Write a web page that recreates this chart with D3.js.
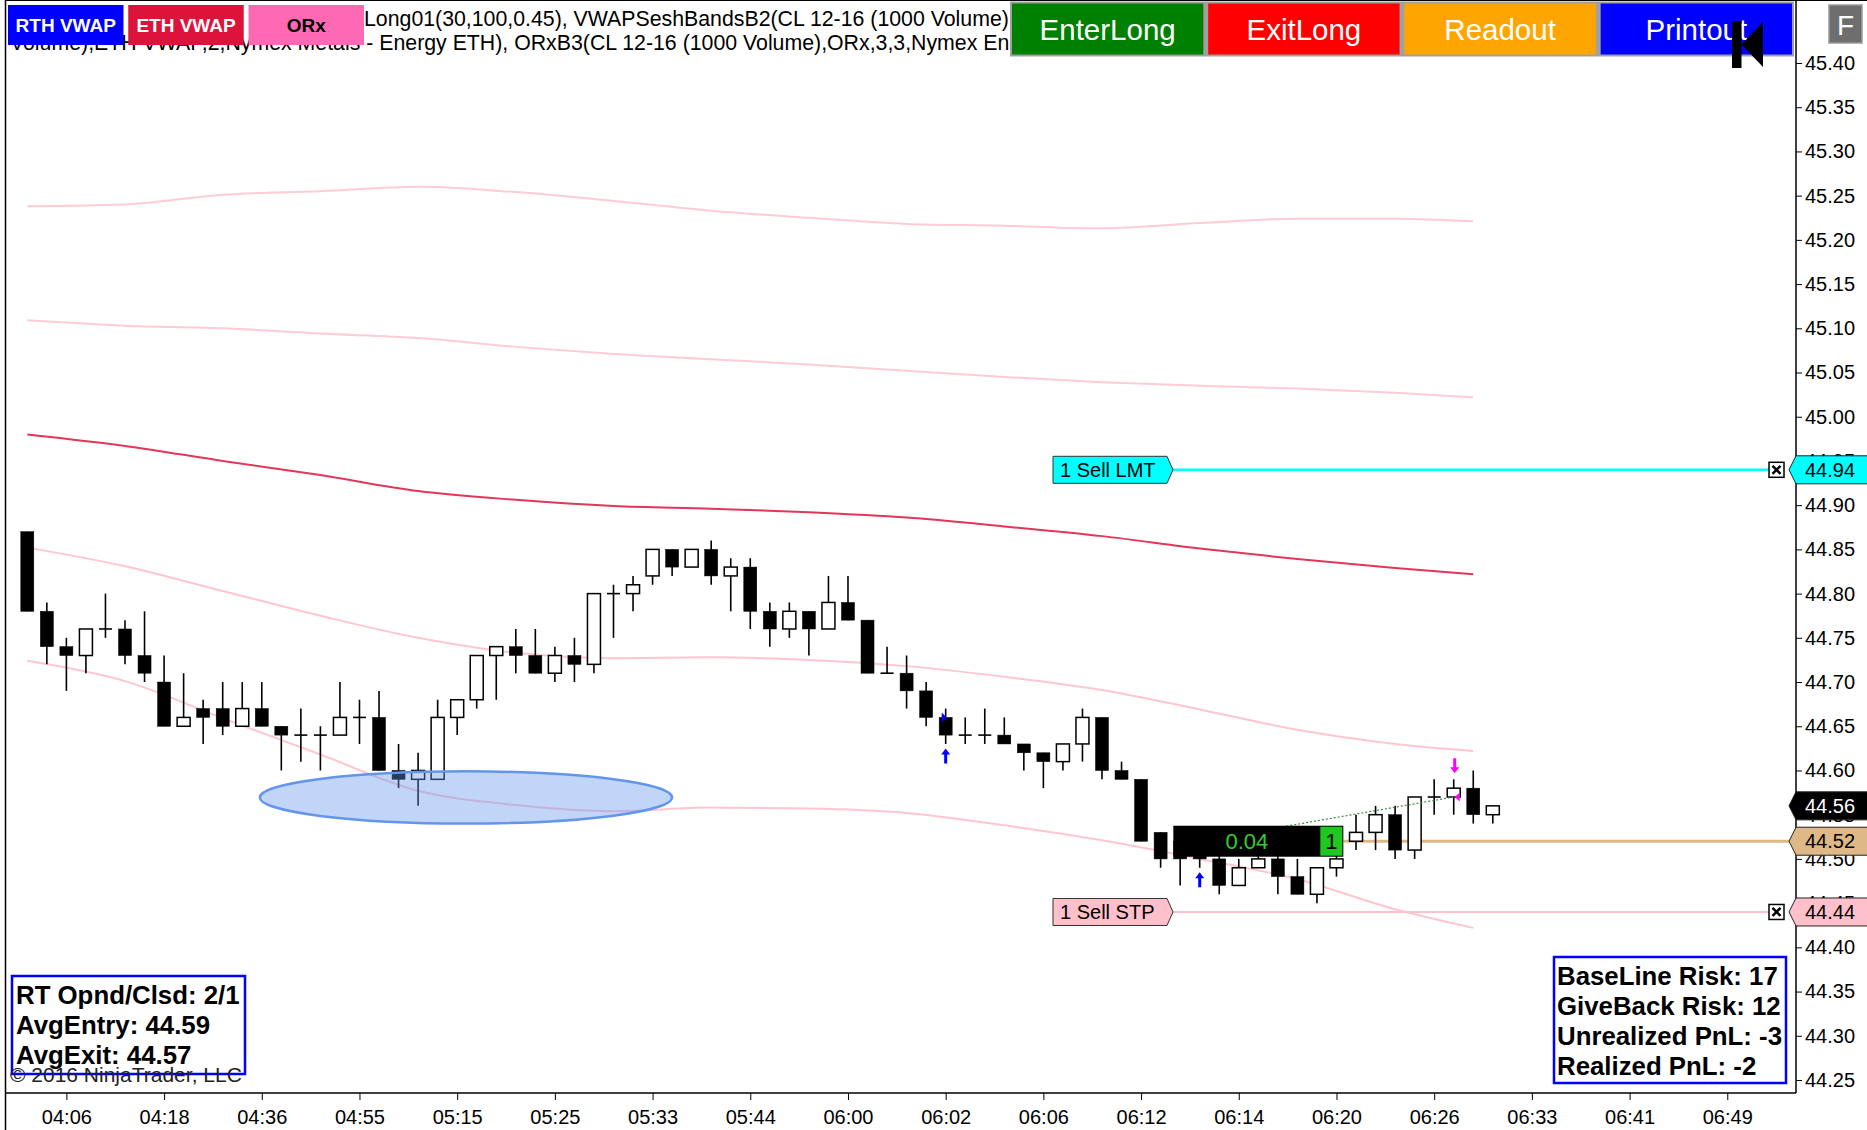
<!DOCTYPE html>
<html>
<head>
<meta charset='UTF-8'>
<title>CL 12-16 (1000 Volume)</title>
<script src='https://cdnjs.cloudflare.com/ajax/libs/d3/7.8.5/d3.min.js'></script>
<style>
body { margin: 0; background: #fff; overflow: hidden; }
svg text { font-family: 'Liberation Sans', Arial, sans-serif; }
</style>
</head>
<body>
<div id='chart'></div>
<script>
// candles, one value per bar
var opens  = [44.87,44.78,44.74,44.73,44.76,44.76,44.73,44.70,44.65,44.67,44.67,44.65,44.67,44.65,44.64,44.64,44.64,44.66,44.66,44.60,
              44.59,44.59,44.66,44.68,44.73,44.74,44.73,44.71,44.73,44.72,44.80,44.80,44.82,44.85,44.83,44.85,44.82,44.83,44.78,44.76,
              44.78,44.76,44.79,44.77,44.71,44.71,44.69,44.66,44.64,44.64,44.64,44.63,44.62,44.61,44.63,44.66,44.60,44.59,44.53,44.52,
              44.51,44.50,44.47,44.49,44.50,44.48,44.46,44.49,44.52,44.53,44.55,44.51,44.57,44.57,44.58,44.55];
var highs  = [44.87,44.79,44.75,44.76,44.80,44.77,44.78,44.73,44.71,44.68,44.70,44.70,44.70,44.65,44.67,44.65,44.70,44.68,44.69,44.63,
              44.62,44.68,44.68,44.73,44.74,44.76,44.76,44.74,44.75,44.80,44.81,44.82,44.85,44.85,44.85,44.86,44.84,44.84,44.79,44.79,
              44.78,44.82,44.82,44.77,44.74,44.73,44.70,44.67,44.66,44.67,44.66,44.63,44.62,44.63,44.67,44.66,44.61,44.59,44.53,44.52,
              44.52,44.51,44.50,44.51,44.51,44.50,44.49,44.51,44.55,44.56,44.56,44.57,44.59,44.59,44.60,44.56];
var lows   = [44.78,44.72,44.69,44.71,44.75,44.72,44.70,44.65,44.65,44.63,44.64,44.65,44.65,44.60,44.61,44.60,44.64,44.63,44.60,44.58,
              44.56,44.59,44.64,44.67,44.68,44.71,44.71,44.70,44.70,44.71,44.75,44.78,44.81,44.82,44.83,44.81,44.78,44.76,44.74,44.75,
              44.73,44.76,44.77,44.71,44.71,44.67,44.65,44.63,44.63,44.63,44.63,44.60,44.58,44.60,44.61,44.59,44.59,44.52,44.49,44.47,
              44.49,44.46,44.47,44.49,44.46,44.46,44.45,44.48,44.51,44.51,44.50,44.50,44.55,44.55,44.54,44.54];
var closes = [44.78,44.74,44.73,44.76,44.76,44.73,44.71,44.65,44.66,44.66,44.65,44.67,44.65,44.64,44.64,44.64,44.66,44.66,44.60,44.59,
              44.60,44.66,44.68,44.73,44.74,44.73,44.71,44.73,44.72,44.80,44.80,44.81,44.85,44.83,44.85,44.82,44.83,44.78,44.76,44.78,
              44.76,44.79,44.77,44.71,44.71,44.69,44.66,44.64,44.64,44.64,44.63,44.62,44.61,44.63,44.66,44.60,44.59,44.52,44.50,44.50,
              44.50,44.47,44.49,44.50,44.48,44.46,44.49,44.50,44.53,44.55,44.51,44.57,44.57,44.58,44.55,44.56];

// VWAP session bands, read every 5 bars
var bandBars  = [0, 5, 10, 15, 20, 25, 30, 35, 40, 45, 50, 55, 60, 65, 70, 74];
var bandUpper3 = [45.238,45.240,45.251,45.255,45.260,45.254,45.244,45.233,45.225,45.218,45.216,45.213,45.219,45.224,45.224,45.221];
var bandUpper2 = [45.109,45.103,45.100,45.094,45.089,45.079,45.071,45.065,45.059,45.052,45.045,45.039,45.035,45.032,45.027,45.022];
var vwapLine   = [44.980,44.967,44.950,44.934,44.916,44.906,44.899,44.896,44.892,44.886,44.876,44.865,44.851,44.839,44.829,44.822];
var bandLower1 = [44.852,44.831,44.803,44.775,44.750,44.733,44.727,44.728,44.725,44.718,44.706,44.691,44.669,44.646,44.630,44.622];
var bandLower2 = [44.724,44.701,44.659,44.618,44.577,44.561,44.554,44.558,44.557,44.552,44.538,44.521,44.500,44.477,44.443,44.422];

var xTickBars   = [2, 7, 12, 17, 22, 27, 32, 37, 42, 47, 52, 57, 62, 67, 72, 77, 82, 87];
var xTickLabels = ['04:06','04:18','04:36','04:55','05:15','05:25','05:33','05:44','06:00',
                   '06:02','06:06','06:12','06:14','06:20','06:26','06:33','06:41','06:49'];
var yTicks = [45.40,45.35,45.30,45.25,45.20,45.15,45.10,45.05,45.00,44.95,44.90,44.85,
              44.80,44.75,44.70,44.65,44.60,44.55,44.50,44.45,44.40,44.35,44.30,44.25];

// executions and orders
var entryBars = [47, 60], entryPrices = [44.66, 44.52];
var exitBars = [73], exitPrices = [44.57];
var orderPrices = [44.94, 44.44];
var orderLabels = ['1 Sell LMT', '1 Sell STP'];
var orderColors = ['#00ffff', '#ffc0cb'];
var avgPrice = 44.52, lastPrice = 44.56;
var positionBars = [58.65, 67.35], positionPnl = '0.04', positionQty = '1';
var ellipseBars = [11.9, 33.0], ellipsePrices = [44.599, 44.540];

var leftInfo  = ['RT Opnd/Clsd: 2/1', 'AvgEntry: 44.59', 'AvgExit: 44.57'];
var rightInfo = ['BaseLine Risk: 17', 'GiveBack Risk: 12', 'Unrealized PnL: -3', 'Realized PnL: -2'];
var indButtons = ['RTH VWAP', 'ETH VWAP', 'ORx'];
var tradeButtons = ['EnterLong', 'ExitLong', 'Readout', 'Printout'];

var W = 1867, H = 1130;
var axisX = 1796, axisY = 1093;

var svg = d3.select('#chart').append('svg')
    .attr('width', W).attr('height', H);

var x = d3.scaleLinear().domain([0, 75]).range([27.3, 1492.8]);
var y = d3.scaleLinear().domain([44.25, 45.40]).range([1080, 63]);

svg.append('defs').append('clipPath').attr('id', 'plot')
   .append('rect').attr('x', 5).attr('y', 0).attr('width', axisX - 5).attr('height', axisY);

var plot = svg.append('g').attr('clip-path', 'url(#plot)');

// bands
var bandLine = function (vals) {
    return d3.line()
        .x((d, i) => x(bandBars[i]))
        .y(d => y(d))
        .curve(d3.curveMonotoneX)(vals);
};
[[bandUpper3, '#ffc6d0', 2], [bandUpper2, '#ffc6d0', 2], [vwapLine, '#dc143c', 2],
 [bandLower1, '#ffc0cb', 2], [bandLower2, '#ffc0cb', 2]].forEach(function (b) {
    plot.append('path')
        .attr('d', bandLine(b[0]))
        .attr('fill', 'none')
        .attr('stroke', b[1])
        .attr('stroke-opacity', b[1] == '#dc143c' ? 0.85 : 0.9)
        .attr('stroke-width', b[2]);
});

// order lines
var labelLeft = 1053, labelRight = 1173, xBoxLeft = 1769;
orderPrices.forEach(function (p, i) {
    plot.append('line')
        .attr('x1', labelRight).attr('x2', xBoxLeft)
        .attr('y1', y(p)).attr('y2', y(p))
        .attr('stroke', orderColors[i]).attr('stroke-width', i == 0 ? 2.5 : 2);
});
plot.append('line')
    .attr('x1', x(positionBars[1])).attr('x2', axisX)
    .attr('y1', y(avgPrice)).attr('y2', y(avgPrice))
    .attr('stroke', '#deb887').attr('stroke-width', 3);

// candles
var bodyW = 13;
var bars = plot.append('g');
opens.forEach(function (o, i) {
    var c = closes[i], cx = x(i);
    bars.append('line')
        .attr('x1', cx).attr('x2', cx)
        .attr('y1', y(highs[i])).attr('y2', y(lows[i]))
        .attr('stroke', '#000').attr('stroke-width', 1.6);
    if (o == c) {
        bars.append('line')
            .attr('x1', cx - bodyW / 2).attr('x2', cx + bodyW / 2)
            .attr('y1', y(c)).attr('y2', y(c))
            .attr('stroke', '#000').attr('stroke-width', 1.6);
    } else {
        var up = c > o;
        bars.append('rect')
            .attr('x', cx - bodyW / 2)
            .attr('y', y(Math.max(o, c)))
            .attr('width', bodyW)
            .attr('height', y(Math.min(o, c)) - y(Math.max(o, c)))
            .attr('fill', up ? '#fff' : '#000')
            .attr('stroke', '#000').attr('stroke-width', up ? 1.5 : 0.5);
    }
});

// entry -> exit connector
plot.append('line')
    .attr('x1', x(entryBars[1])).attr('y1', y(entryPrices[1]))
    .attr('x2', x(exitBars[0])).attr('y2', y(exitPrices[0]))
    .attr('stroke', '#3c8c3c').attr('stroke-width', 1.2)
    .attr('stroke-dasharray', '2,2');

// ellipse drawn over the bars
plot.append('ellipse')
    .attr('cx', x((ellipseBars[0] + ellipseBars[1]) / 2))
    .attr('cy', y((ellipsePrices[0] + ellipsePrices[1]) / 2))
    .attr('rx', (x(ellipseBars[1]) - x(ellipseBars[0])) / 2)
    .attr('ry', (y(ellipsePrices[1]) - y(ellipsePrices[0])) / 2)
    .attr('fill', '#6495ed').attr('fill-opacity', 0.4)
    .attr('stroke', '#6495ed').attr('stroke-width', 2.5);

// execution markers
entryBars.forEach(function (b, i) {
    var cx = x(b), py = y(entryPrices[i]);
    plot.append('path')
        .attr('d', 'M' + (cx - 4) + ',' + (py - 5) + 'L' + (cx + 1) + ',' + py + 'L' + (cx - 4) + ',' + (py + 5) + 'Z')
        .attr('fill', '#0000ff');
    var t = y(lows[b]) + 4.5;
    plot.append('path')
        .attr('d', 'M' + cx + ',' + t + 'l4.5,6h-3v9h-3v-9h-3z')
        .attr('fill', '#0000ff');
});
exitBars.forEach(function (b, i) {
    var cx = x(b), py = y(exitPrices[i]);
    plot.append('path')
        .attr('d', 'M' + (cx + 1) + ',' + py + 'L' + (cx + 6) + ',' + (py - 4.5) + 'L' + (cx + 6) + ',' + (py + 4.5) + 'Z')
        .attr('fill', '#ff00ff');
    var t = y(highs[b]) - 6;
    plot.append('path')
        .attr('d', 'M' + (cx + 1) + ',' + t + 'l4.5,-6h-3v-9h-3v9h-3z')
        .attr('fill', '#ff00ff');
});

// position box
var pbTop = y(avgPrice) - 15.5, pbH = 31;
var pbL = x(positionBars[0]), pbR = x(positionBars[1]);
svg.append('rect').attr('x', pbL).attr('y', pbTop)
   .attr('width', pbR - pbL).attr('height', pbH).attr('fill', '#000');
svg.append('rect').attr('x', pbR - 23).attr('y', pbTop + 1)
   .attr('width', 22).attr('height', pbH - 2).attr('fill', '#1ec81e');
svg.append('text').attr('x', (pbL + pbR - 23) / 2).attr('y', y(avgPrice) + 8)
   .attr('text-anchor', 'middle').attr('fill', '#32cd32')
   .style('font-size', '22px').text(positionPnl);
svg.append('text').attr('x', pbR - 12).attr('y', y(avgPrice) + 8)
   .attr('text-anchor', 'middle').attr('fill', '#000')
   .style('font-size', '22px').text(positionQty);

// order labels on the chart
orderPrices.forEach(function (p, i) {
    var cy = y(p);
    svg.append('path')
        .attr('d', 'M' + labelLeft + ',' + (cy - 13.5) + 'H' + (labelRight - 6) +
              'L' + labelRight + ',' + cy + 'L' + (labelRight - 6) + ',' + (cy + 13.5) +
              'H' + labelLeft + 'Z')
        .attr('fill', orderColors[i]).attr('stroke', '#333').attr('stroke-width', 1);
    svg.append('text').attr('x', labelLeft + 7).attr('y', cy + 7)
       .attr('fill', '#000').style('font-size', '20px').text(orderLabels[i]);
    var g = svg.append('g').attr('transform', 'translate(' + xBoxLeft + ',' + (cy - 7.5) + ')');
    g.append('rect').attr('width', 15).attr('height', 15)
     .attr('fill', '#fff').attr('stroke', '#000').attr('stroke-width', 1.5);
    g.append('path').attr('d', 'M3.5,3.5L11.5,11.5M11.5,3.5L3.5,11.5')
     .attr('stroke', '#000').attr('stroke-width', 2.5);
});

// axes
svg.append('line').attr('x1', 5.5).attr('x2', 5.5).attr('y1', 0).attr('y2', H)
   .attr('stroke', '#000').attr('stroke-width', 1.5);
svg.append('line').attr('x1', 5).attr('x2', W).attr('y1', 0.5).attr('y2', 0.5)
   .attr('stroke', '#000').attr('stroke-width', 1);
svg.append('line').attr('x1', axisX).attr('x2', axisX).attr('y1', 0).attr('y2', axisY)
   .attr('stroke', '#000').attr('stroke-width', 1.5);
svg.append('line').attr('x1', 5).attr('x2', axisX).attr('y1', axisY).attr('y2', axisY)
   .attr('stroke', '#000').attr('stroke-width', 1.5);

var yAxis = d3.axisRight(y).tickValues(yTicks).tickSize(6).tickPadding(3)
    .tickFormat(d3.format('.2f'));
var ya = svg.append('g').attr('transform', 'translate(' + axisX + ',0)').call(yAxis);
ya.select('.domain').remove();
ya.selectAll('text').style('font-size', '20px').attr('fill', '#000')
  .attr('font-family', 'Liberation Sans, Arial, sans-serif');
ya.selectAll('line').attr('stroke', '#000');

var xt = d3.scaleLinear().domain([0, 87]).range([x(0), x(87)]);
var xAxis = d3.axisBottom(xt).tickValues(xTickBars).tickSize(7).tickPadding(10)
    .tickFormat((d, i) => xTickLabels[i]);
var xa = svg.append('g').attr('transform', 'translate(0,' + axisY + ')').call(xAxis);
xa.select('.domain').remove();
xa.selectAll('text').style('font-size', '20px').attr('fill', '#000')
  .attr('font-family', 'Liberation Sans, Arial, sans-serif');
xa.selectAll('line').attr('stroke', '#000');

// price markers on the axis
[[orderPrices[0], orderColors[0], '#000'], [lastPrice, '#000', '#fff'],
 [avgPrice, '#deb887', '#000'], [orderPrices[1], orderColors[1], '#000']].forEach(function (m) {
    var cy = y(m[0]);
    svg.append('path')
        .attr('d', 'M' + (axisX - 7) + ',' + cy + 'L' + axisX + ',' + (cy - 14) + 'H' + (W + 2) +
              'V' + (cy + 14) + 'H' + axisX + 'Z')
        .attr('fill', m[1]).attr('stroke', '#222').attr('stroke-width', 1);
    svg.append('text').attr('x', 1805).attr('y', cy + 7)
       .attr('fill', m[2]).style('font-size', '20px').text(m[0].toFixed(2));
});

// header: indicator text and buttons
svg.append('text').attr('x', 364).attr('y', 26).style('font-size', '21.3px')
   .text('Long01(30,100,0.45), VWAPSeshBandsB2(CL 12-16 (1000 Volume),');
svg.append('text').attr('x', 10).attr('y', 50).style('font-size', '21.3px')
   .text('Volume),ETH VWAP,2,Nymex Metals - Energy ETH), ORxB3(CL 12-16 (1000 Volume),ORx,3,3,Nymex Energy');

var indColors = ['#0000ff', '#dc143c', '#ff69b4'];
var indText = ['#fff', '#fff', '#000'];
var indX = d3.scaleBand().domain(indButtons).range([8, 364]).paddingInner(0.04);
indButtons.forEach(function (b, i) {
    svg.append('rect').attr('x', indX(b)).attr('y', 5)
       .attr('width', indX.bandwidth()).attr('height', 40).attr('fill', indColors[i]);
    svg.append('text').attr('x', indX(b) + indX.bandwidth() / 2).attr('y', 32)
       .attr('text-anchor', 'middle').attr('fill', indText[i])
       .style('font-size', '19px').style('font-weight', 'bold').text(b);
});

var btnColors = ['#008000', '#ff0000', '#ffa500', '#0000ff'];
svg.append('rect').attr('x', 1010).attr('y', 1.5).attr('width', 784).attr('height', 55)
   .attr('fill', '#a0a0a0');
var btnX = d3.scaleBand().domain(tradeButtons).range([1012, 1792]).paddingInner(0.025);
tradeButtons.forEach(function (b, i) {
    svg.append('rect').attr('x', btnX(b)).attr('y', 3.5)
       .attr('width', btnX.bandwidth()).attr('height', 51).attr('fill', btnColors[i]);
    svg.append('text').attr('x', btnX(b) + btnX.bandwidth() / 2).attr('y', 40)
       .attr('text-anchor', 'middle').attr('fill', '#fff')
       .style('font-size', '29.5px').text(b);
});
svg.append('path').attr('d', 'M1732,21h9.5v47h-9.5Z M1741.5,44.5L1763,22V67Z').attr('fill', '#000');

svg.append('rect').attr('x', 1829).attr('y', 5).attr('width', 33).attr('height', 38)
   .attr('fill', '#6e6e6e').attr('stroke', '#9a9a9a').attr('stroke-width', 1.5);
svg.append('text').attr('x', 1845.5).attr('y', 35).attr('text-anchor', 'middle')
   .attr('fill', '#fff').style('font-size', '28px').text('F');

// info boxes
svg.append('rect').attr('x', 12).attr('y', 976).attr('width', 233).attr('height', 98)
   .attr('fill', 'none').attr('stroke', '#0000ff').attr('stroke-width', 2.5);
leftInfo.forEach(function (t, i) {
    svg.append('text').attr('x', 16).attr('y', 1004 + i * 30)
       .style('font-size', '25.8px').style('font-weight', 'bold').text(t);
});
svg.append('text').attr('x', 10).attr('y', 1082).style('font-size', '21px').attr('fill', '#222')
   .text('© 2016 NinjaTrader, LLC');

svg.append('rect').attr('x', 1554).attr('y', 957).attr('width', 232).attr('height', 126)
   .attr('fill', '#fff').attr('stroke', '#0000ff').attr('stroke-width', 2.5);
rightInfo.forEach(function (t, i) {
    svg.append('text').attr('x', 1557).attr('y', 985 + i * 30)
       .style('font-size', '25.8px').style('font-weight', 'bold').text(t);
});
</script>
</body>
</html>
